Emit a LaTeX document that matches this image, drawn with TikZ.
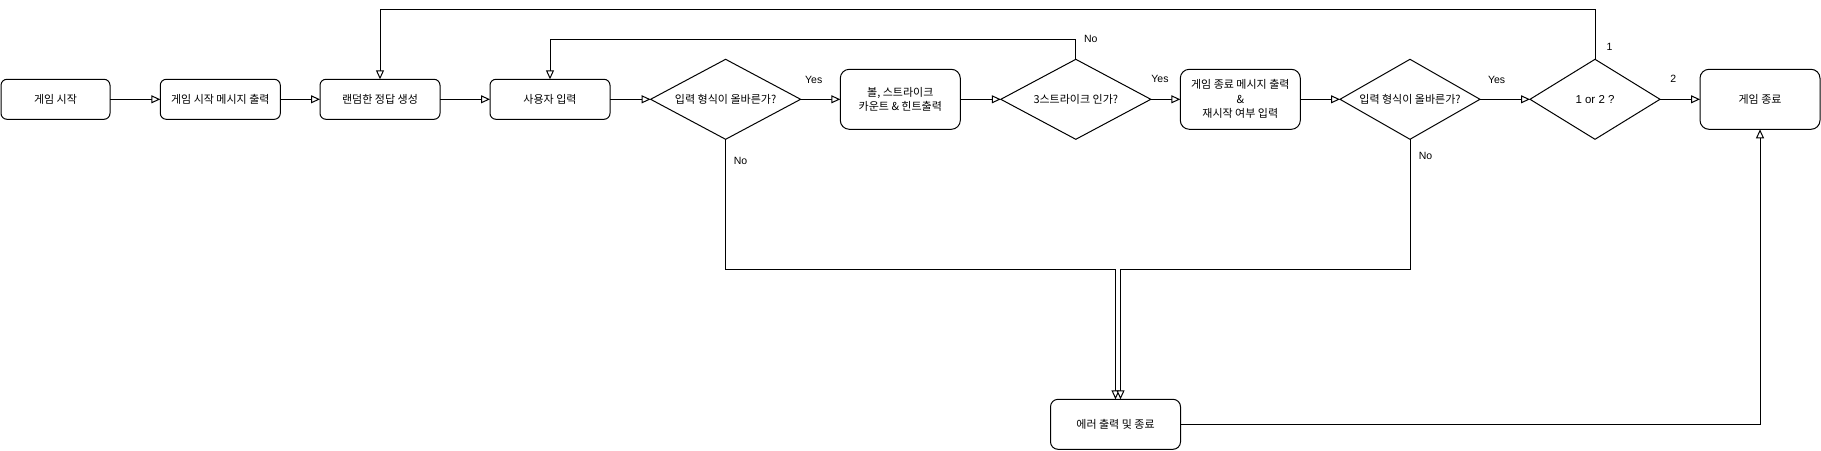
\documentclass[tikz,border=0pt]{standalone}
\usepackage{fontspec}
\setmainfont{Liberation Sans}
\newfontfamily\krfont{Noto Sans CJK KR}
\usetikzlibrary{arrows.meta,shapes.geometric}
\begin{document}
\begin{tikzpicture}[x=1pt,y=-1pt,
  line width=1pt,
  every node/.style={outer sep=0pt},
  krtxt/.style={font=\krfont\fontsize{11}{14.5}\selectfont, align=center},
  box/.style={draw, fill=white, rounded corners=6pt, minimum width=120pt, minimum height=40pt, inner sep=0pt, krtxt},
  tallbox/.style={box, rounded corners=9pt, minimum height=60pt},
  dia/.style={draw, fill=white, diamond, inner sep=0pt, minimum width=150pt, minimum height=80pt},
  lbl/.style={font=\fontsize{10.5}{12}\selectfont, inner sep=0pt},
  arr/.style={-{Triangle[fill=white,length=9pt,width=8pt]}}
]
\useasboundingbox (0,0) rectangle (1821,450);
\fill[white] (0,0) rectangle (1821,450);

% top row
\node[box, minimum width=109pt] (b1) at (55.5,99.3) {게임 시작};
\node[box] (b2) at (220.3,99.3) {게임 시작 메시지 출력};
\node[box] (b3) at (380,99.3) {랜덤한 정답 생성};
\node[box] (b4) at (550,99.3) {사용자 입력};
\node[dia] (d1) at (725.6,99.3) {};
\node[krtxt] (t1) at (d1) {입력 형식이 올바른가?};
\node[tallbox] (b5) at (900.3,99.3) {볼, 스트라이크\\카운트 \& 힌트출력};
\node[dia] (d2) at (1075.8,99.3) {};
\node[krtxt] (t2) at (d2) {3스트라이크 인가?};
\node[tallbox] (b6) at (1240.3,99.3) {게임 종료 메시지 출력\\\&\\재시작 여부 입력};
\node[dia, minimum width=140pt] (d3) at (1410,99.3) {};
\node[krtxt] (t3) at (d3) {입력 형식이 올바른가?};
\node[dia, minimum width=130pt] (d4) at (1595,99.3) {};
\node[font=\fontsize{11.5}{13}\selectfont] (t4) at (d4) {1 or 2 ?};
\node[tallbox] (b7) at (1760,99.3) {게임 종료};
\node[box, rounded corners=7.5pt, minimum width=130pt, minimum height=50pt] (b8) at (1115.5,424.3) {에러 출력 및 종료};

% straight connectors
\draw[arr] (b1) -- (b2);
\draw[arr] (b2) -- (b3);
\draw[arr] (b3) -- (b4);
\draw[arr] (b4) -- (d1.west);
\draw[arr] (d1.east) -- (b5);
\draw[arr] (b5) -- (d2.west);
\draw[arr] (d2.east) -- (b6);
\draw[arr] (b6) -- (d3.west);
\draw[arr] (d3.east) -- (d4.west);
\draw[arr] (d4.east) -- (b7);

% loops back
\draw[arr] (d4.north) -- ++(0,-50) -| (b3.north);
\draw[arr] (d2.north) -- ++(0,-20) -| (b4.north);

% error paths
\draw[arr] (d1.south) -- ++(0,130) -| (b8.north);
\draw[arr] (d3.south) -- ++(0,130) -| ([xshift=5pt]b8.north);
\draw[arr] (b8.east) -| (b7.south);

% labels
\node[lbl] (y1) at (813.7,80) {Yes};
\node[lbl] (y2) at (1160,79.3) {Yes};
\node[lbl] (y3) at (1496.6,80) {Yes};
\node[lbl] (n1) at (740.5,160.7) {No};
\node[lbl] (n2) at (1090.8,39.3) {No};
\node[lbl] (n3) at (1425.5,156) {No};
\node[lbl] (l1) at (1609.6,46.7) {1};
\node[lbl] (l2) at (1673.3,79.3) {2};
\end{tikzpicture}
\end{document}
